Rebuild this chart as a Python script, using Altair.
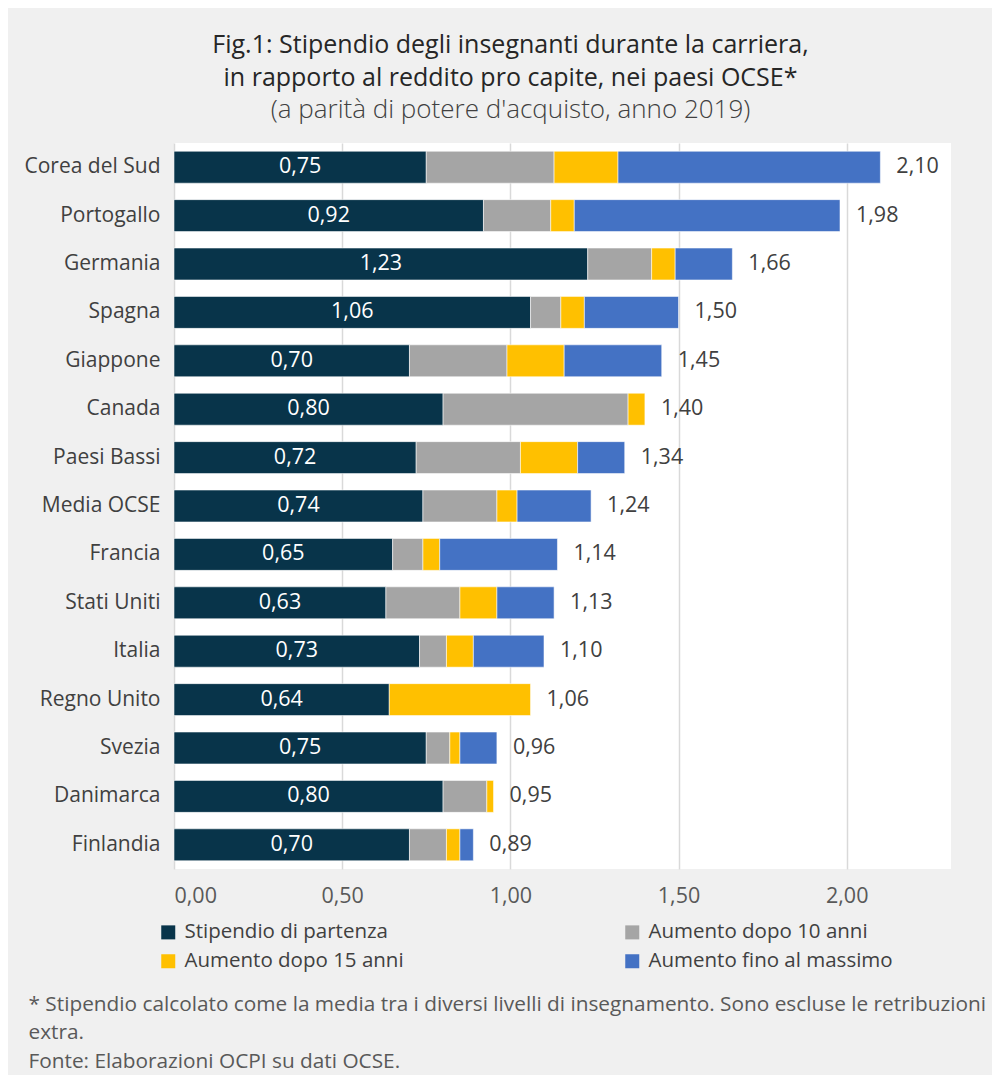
import altair as alt
import pandas as pd

countries = ["Corea del Sud", "Portogallo", "Germania", "Spagna", "Giappone", "Canada",
             "Paesi Bassi", "Media OCSE", "Francia", "Stati Uniti", "Italia",
             "Regno Unito", "Svezia", "Danimarca", "Finlandia"]
start = [0.75, 0.92, 1.23, 1.06, 0.70, 0.80, 0.72, 0.74, 0.65, 0.63, 0.73, 0.64, 0.75, 0.80, 0.70]
inc10 = [0.38, 0.20, 0.19, 0.09, 0.29, 0.55, 0.31, 0.22, 0.09, 0.22, 0.08, 0.00, 0.07, 0.13, 0.11]
inc15 = [0.19, 0.07, 0.07, 0.07, 0.17, 0.05, 0.17, 0.06, 0.05, 0.11, 0.08, 0.42, 0.03, 0.02, 0.04]
incmax = [0.78, 0.79, 0.17, 0.28, 0.29, 0.00, 0.14, 0.22, 0.35, 0.17, 0.21, 0.00, 0.11, 0.00, 0.04]

series = ["Stipendio di partenza", "Aumento dopo 10 anni", "Aumento dopo 15 anni", "Aumento fino al massimo"]
colors = ["#08344a", "#a5a5a5", "#ffc000", "#4472c4"]
x_ticks = [0.0, 0.5, 1.0, 1.5, 2.0]

title_lines = ["Fig.1: Stipendio degli insegnanti durante la carriera,",
               "in rapporto al reddito pro capite, nei paesi OCSE*"]
subtitle = "(a parità di potere d'acquisto, anno 2019)"
footnote = ["* Stipendio calcolato come la media tra i diversi livelli di insegnamento. Sono escluse le retribuzioni",
            "extra.",
            "Fonte: Elaborazioni OCPI su dati OCSE."]

FONT = "Open Sans"

def fmt(v):
    return f"{v:.2f}".replace(".", ",")

rows = []
for i, c in enumerate(countries):
    for k, vals in enumerate([start, inc10, inc15, incmax]):
        if vals[i] > 0:
            rows.append({"country": c, "series": series[k], "order": k, "value": vals[i]})
df = pd.DataFrame(rows)

totals = [round(start[i] + inc10[i] + inc15[i] + incmax[i], 2) for i in range(len(countries))]
lab = pd.DataFrame({
    "country": countries,
    "start": start,
    "half": [s / 2 for s in start],
    "start_txt": [fmt(s) for s in start],
    "total": totals,
    "total_txt": [fmt(t) for t in totals],
})

W, H = 777, 726
ysc = alt.Scale(domain=countries, paddingInner=0.34, paddingOuter=0.17)
xsc = alt.Scale(domain=[0, 2.31], nice=False, zero=True)

bars = alt.Chart(df).mark_bar(stroke="white", strokeWidth=1, strokeOpacity=0.55).encode(
    y=alt.Y("country:N", scale=ysc, sort=countries,
            axis=alt.Axis(title=None, domain=False, ticks=False, labelPadding=14,
                          labelFontSize=21, labelColor="#404040", labelFont=FONT)),
    x=alt.X("sum(value):Q", scale=xsc, stack="zero",
            axis=alt.Axis(values=x_ticks, labelExpr="replace(format(datum.value, '.2f'), '.', ',')",
                          domain=False, ticks=False, grid=True, gridColor="#d9d9d9", gridWidth=1.5,
                          labelFontSize=21.5, labelColor="#595959", labelFont=FONT, labelPadding=16,
                          title=footnote, titleFont=FONT, titleFontSize=20.8, titleFontWeight="normal",
                          titleColor="#595959", titleAlign="left", titleAnchor="start",
                          titleX=-146, titleY=141, titleBaseline="alphabetic", titleLineHeight=28.5)),
    color=alt.Color("series:N", scale=alt.Scale(domain=series, range=colors),
                    legend=alt.Legend(title=None, orient="none", legendX=-16, legendY=779,
                                      columns=2, direction="horizontal", columnPadding=218, rowPadding=8,
                                      symbolType="square", symbolSize=196, symbolStrokeWidth=0,
                                      labelFontSize=20.5, labelColor="#404040", labelFont=FONT,
                                      labelOffset=6, labelLimit=400)),
    order=alt.Order("order:Q"),
)

inner = alt.Chart(lab).mark_text(color="white", fontSize=21.5, font=FONT).encode(
    y=alt.Y("country:N", scale=ysc, sort=countries),
    x=alt.X("half:Q", scale=xsc),
    text="start_txt:N",
)

outer = alt.Chart(lab).mark_text(color="#404040", fontSize=21.5, font=FONT, align="left", dx=16).encode(
    y=alt.Y("country:N", scale=ysc, sort=countries),
    x=alt.X("total:Q", scale=xsc),
    text="total_txt:N",
)

chart = alt.layer(bars, inner, outer).properties(
    width=W, height=H,
    title=alt.TitleParams(text=title_lines, subtitle=subtitle, anchor="middle", dx=-52,
                          font=FONT, fontSize=25, fontWeight="normal", color="#262626",
                          lineHeight=33, subtitleFont=FONT, subtitleFontSize=26,
                          subtitleFontWeight=300, subtitleColor="#404040", subtitlePadding=6,
                          offset=20),
    background="#f0f0f0",
    autosize=alt.AutoSizeParams(type="none"),
    padding={"left": 166, "top": 135, "right": 41, "bottom": 206},
).configure_view(fill="white", stroke=None)

chart.save("out.html", embed_options={"renderer": "svg", "actions": False})
